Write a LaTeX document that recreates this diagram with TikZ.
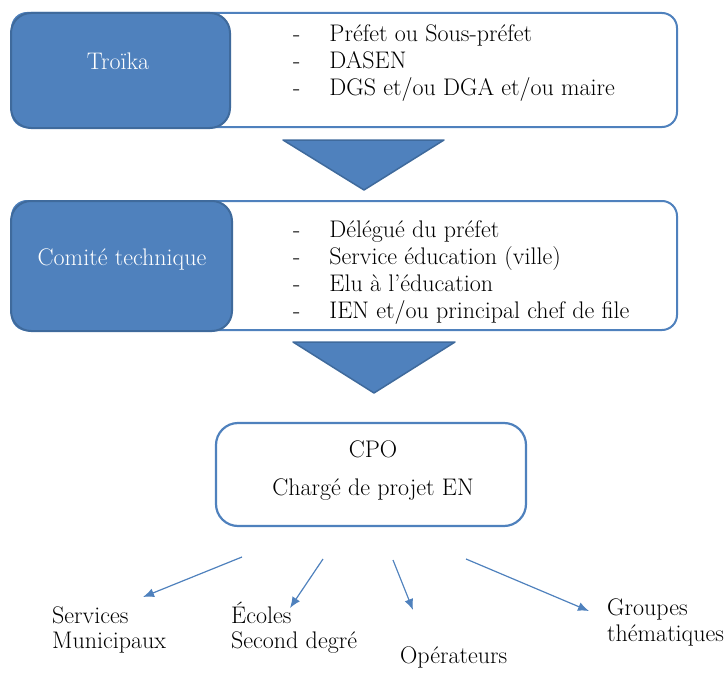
\documentclass[tikz,border=0pt]{standalone}
\usetikzlibrary{arrows.meta}

\definecolor{officeblue}{HTML}{4F81BD}
\definecolor{edgeblue}{HTML}{3F6A9C}

\tikzset{
  outerbox/.style={draw=officeblue, line width=2pt, fill=white, rounded corners=15pt},
  titlebox/.style={draw=edgeblue, line width=2pt, fill=officeblue, rounded corners=20pt},
  flowdown/.style={draw=edgeblue, line width=1.5pt, fill=officeblue, line join=round},
  txt/.style={inner sep=0pt, font=\fontsize{24}{27}\selectfont},
  branch/.style={draw=officeblue, line width=1.2pt, -{Latex[length=11pt,width=9pt]}}
}

\begin{document}
\begin{tikzpicture}[x=1pt, y=-1pt]
        \useasboundingbox (0,0) rectangle (726,677);

        % Troika
        \draw[outerbox] (12,13) rectangle (677,127);
        \draw[titlebox] (11,13) rectangle (230,128);
        \node[txt, text=white] (troika) at (118,61) {Troïka};
        \node[txt, anchor=base west] (troikalist) at (293,42) {%
          \begin{tabular}[t]{@{}l@{\hspace{29pt}}l@{}}
            - & Préfet ou Sous-préfet\\
            - & DASEN\\
            - & DGS et/ou DGA et/ou maire
          \end{tabular}};

        % arrow down
        \draw[flowdown] (283,140) -- (444,140) -- (364,190) -- cycle;

        % Comite technique
        \draw[outerbox] (12,201) rectangle (677,330);
        \draw[titlebox] (11,201) rectangle (232,331);
        \node[txt, text=white] (comite) at (122,259) {Comité technique};
        \node[txt, anchor=base west] (comitelist) at (293,237) {%
          \begin{tabular}[t]{@{}l@{\hspace{29pt}}l@{}}
            - & Délégué du préfet\\
            - & Service éducation (ville)\\
            - & Elu à l’éducation\\
            - & IEN et/ou principal chef de file
          \end{tabular}};

        % arrow down
        \draw[flowdown] (293,342) -- (455,342) -- (374,393) -- cycle;

        % CPO
        \node[draw=officeblue, line width=2.2pt, rounded corners=22pt, minimum width=310pt,
              minimum height=103pt, fill=white] (cpo) at (371,474.5) {};
        \node[txt] (cpotitle) at (373,449) {CPO};
        \node[txt] (cpochef) at (373,490) {Chargé de projet EN};

        % branches
        \coordinate (s1) at (242,557);
        \coordinate (s2) at (323,559);
        \coordinate (s3) at (393,560);
        \coordinate (s4) at (466,559);
        \coordinate (e1) at (143,597);
        \coordinate (e2) at (290,608);
        \coordinate (e3) at (413,610);
        \coordinate (e4) at (589,611);
        \draw[branch] (s1) -- (e1);
        \draw[branch] (s2) -- (e2);
        \draw[branch] (s3) -- (e3);
        \draw[branch] (s4) -- (e4);

        % targets
        \node[txt, align=left, anchor=base west, font=\fontsize{24}{25}\selectfont] (services) at (52,648) {Services\\Municipaux};
        \node[txt, align=left, anchor=base west, font=\fontsize{24}{25}\selectfont] (ecoles) at (231,648) {Écoles\\Second degré};
        \node[txt, anchor=base west] (operateurs) at (400,663) {Opérateurs};
        \node[txt, align=left, anchor=base west, font=\fontsize{24}{26}\selectfont] (groupes) at (607,641) {Groupes\\thématiques};
\end{tikzpicture}
\end{document}
